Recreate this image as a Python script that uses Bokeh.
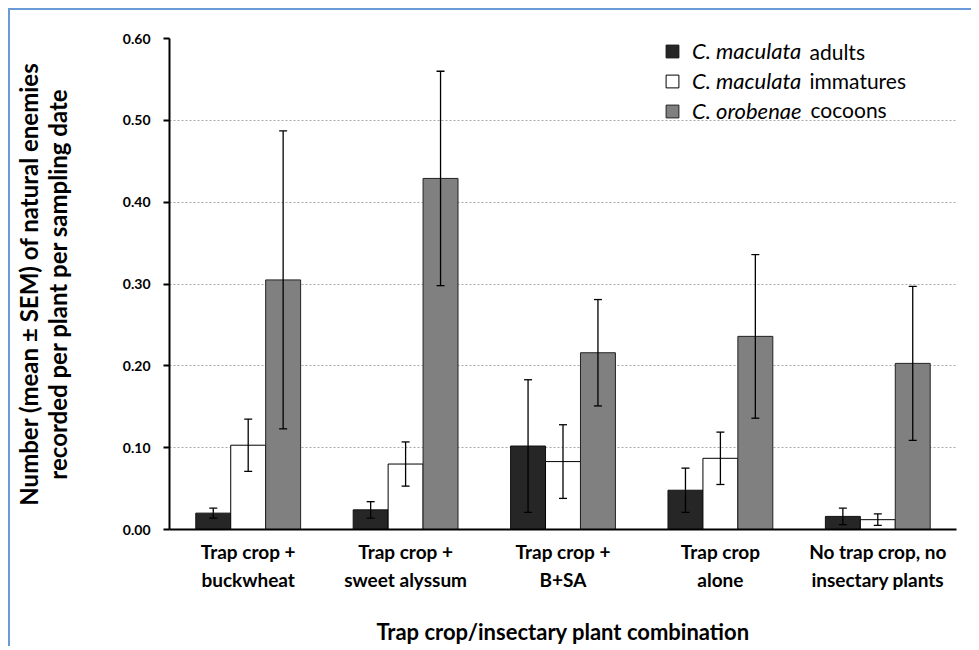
from bokeh.plotting import figure
from bokeh.models import (FactorRange, ColumnDataSource, Whisker, TeeHead, Label,
                          Legend, LegendItem, FixedTicker, NumeralTickFormatter)
from bokeh.transform import dodge
from bokeh.embed import file_html
from bokeh.resources import INLINE

# ---------------- data ----------------
categories = ["Trap crop +\nbuckwheat", "Trap crop +\nsweet alyssum", "Trap crop +\nB+SA",
              "Trap crop\nalone", "No trap crop, no\ninsectary plants"]
adults = [0.020, 0.024, 0.102, 0.048, 0.016]
adults_sem = [0.006, 0.010, 0.081, 0.027, 0.010]
immatures = [0.103, 0.080, 0.083, 0.087, 0.012]
immatures_sem = [0.032, 0.027, 0.045, 0.032, 0.007]
cocoons = [0.305, 0.429, 0.216, 0.236, 0.203]
cocoons_sem = [0.182, 0.131, 0.065, 0.100, 0.094]
y_ticks = [0.0, 0.1, 0.2, 0.3, 0.4, 0.5, 0.6]
series_italic = ["C. maculata", "C. maculata", "C. orobenae"]
series_plain = ["adults", "immatures", "cocoons"]

FONT = "Lato"

src = ColumnDataSource(dict(
    cat=categories,
    adults=adults, a_lo=[v - e for v, e in zip(adults, adults_sem)], a_hi=[v + e for v, e in zip(adults, adults_sem)],
    imm=immatures, i_lo=[v - e for v, e in zip(immatures, immatures_sem)], i_hi=[v + e for v, e in zip(immatures, immatures_sem)],
    coc=cocoons, c_lo=[v - e for v, e in zip(cocoons, cocoons_sem)], c_hi=[v + e for v, e in zip(cocoons, cocoons_sem)],
))

p = figure(width=963, height=638, x_range=FactorRange(*categories), y_range=(0, 0.6),
           output_backend="svg", toolbar_location=None,
           min_border_left=157, min_border_right=17, min_border_top=28, min_border_bottom=104)
p.margin = (8, 0, 0, 8)
p.styles = {"border-top": "2px solid #6b9ad8", "border-left": "2px solid #6b9ad8"}
p.outline_line_color = None

w = 0.222
fills = ["#262626", "#ffffff", "#808080"]
lines = ["#111111", "#000000", "#222222"]
cols = [("adults", "a_lo", "a_hi"), ("imm", "i_lo", "i_hi"), ("coc", "c_lo", "c_hi")]
offs = [-w, 0.0, w]
renderers = []
for (top, lo, hi), off, fc, lc in zip(cols, offs, fills, lines):
    r = p.vbar(x=dodge("cat", off, range=p.x_range), top=top, width=w, source=src,
               fill_color=fc, line_color=lc, line_width=1)
    renderers.append(r)
for (top, lo, hi), off in zip(cols, offs):
    wh = Whisker(base=dodge("cat", off, range=p.x_range), upper=hi, lower=lo, source=src,
                 line_color="black", line_width=1.3, level="overlay",
                 upper_head=TeeHead(size=8, line_color="black", line_width=1.3),
                 lower_head=TeeHead(size=8, line_color="black", line_width=1.3))
    p.add_layout(wh)

# axes
p.yaxis.ticker = FixedTicker(ticks=y_ticks)
p.yaxis.formatter = NumeralTickFormatter(format="0.00")
p.yaxis.axis_label = "Number (mean \u00b1 SEM) of natural enemies\nrecorded per plant per sampling date"
p.xaxis.axis_label = "Trap crop/insectary plant combination"
for ax in (p.xaxis, p.yaxis):
    ax.axis_line_color = "black"
    ax.axis_line_width = 2
    ax.major_label_text_font = FONT
    ax.major_label_text_font_style = "bold"
    ax.major_label_text_color = "black"
    ax.axis_label_text_font = FONT
    ax.axis_label_text_font_style = "bold"
    ax.axis_label_text_color = "black"
    ax.minor_tick_line_color = None
p.yaxis.axis_label_text_font_size = "24px"
p.yaxis.axis_label_text_line_height = 1.0
p.xaxis.axis_label_text_font_size = "22px"
p.yaxis.major_label_text_font_size = "14px"
p.yaxis.major_tick_line_color = "black"
p.yaxis.major_tick_line_width = 2
p.yaxis.major_tick_out = 6
p.yaxis.major_tick_in = 0
p.yaxis.major_label_standoff = 13
p.yaxis.axis_label_standoff = 48
p.xaxis.major_tick_line_color = None
p.xaxis.major_label_text_font_size = "19px"
p.xaxis.major_label_text_line_height = 1.25
p.xaxis.major_label_standoff = 4
p.xaxis.axis_label_standoff = 24

p.xgrid.visible = False
p.ygrid.grid_line_color = "#a8a8a8"
p.ygrid.grid_line_dash = "2 2"
p.ygrid.grid_line_width = 1

# legend (squares + italic species names) and plain-text continuation
legend = Legend(items=[LegendItem(label=t, renderers=[r]) for t, r in zip(series_italic, renderers)],
                location=(495, 405), glyph_width=16, glyph_height=16, label_standoff=12,
                padding=0, margin=0, spacing=3, label_height=26,
                border_line_color=None, background_fill_alpha=0,
                label_text_font=FONT, label_text_font_style="italic", label_text_font_size="22px",
                label_text_color="black")
p.add_layout(legend, "center")
ys = [478, 449, 420]
xs = [640, 640, 641]
for t, x, y in zip(series_plain, xs, ys):
    p.add_layout(Label(x=x, y=y, x_units="screen", y_units="screen", text=t,
                       text_font=FONT, text_font_size="21px", text_color="black",
                       text_baseline="middle"))

open("out.html", "w").write(file_html(p, INLINE))
